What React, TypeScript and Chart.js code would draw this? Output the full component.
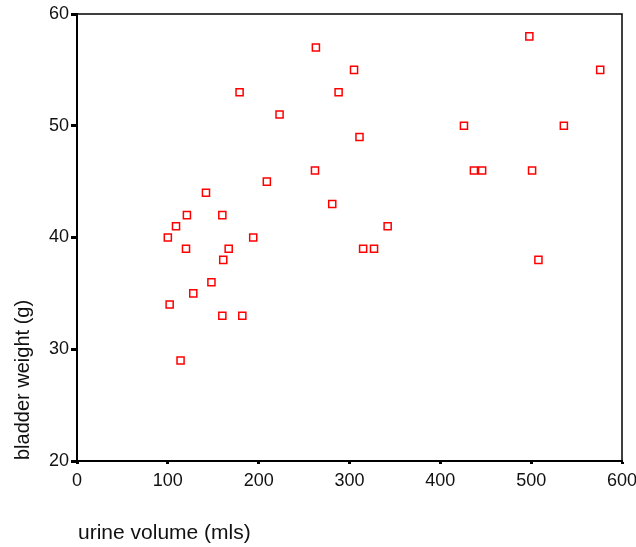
import React, { useEffect, useRef } from "react";
import { Chart, registerables } from "chart.js";

Chart.register(...registerables);

const urineVolume = [
  100, 102, 109, 114, 121, 120, 128, 142, 148, 160, 160, 161, 167, 179, 182, 194,
  209, 223, 262, 263, 281, 288, 305, 311, 315, 327, 342, 426, 437, 446, 498, 501,
  508, 536, 576,
];
const bladderWeight = [
  40, 34, 41, 29, 42, 39, 35, 44, 36, 42, 33, 38, 39, 53, 33, 40,
  45, 51, 46, 57, 43, 53, 55, 49, 39, 39, 41, 50, 46, 46, 58, 46,
  38, 50, 55,
];
const xTitle = "urine volume (mls)";
const yTitle = "bladder weight (g)";
const xMin = 0, xMax = 600, xStep = 100;
const yMin = 20, yMax = 60, yStep = 10;

const FONT = "'Liberation Sans', Arial, sans-serif";

const framePlugin = {
  id: "frame",
  afterDraw(chart: any) {
    const { ctx, chartArea } = chart;
    ctx.save();
    ctx.strokeStyle = "#000";
    ctx.lineWidth = 1.5;
    ctx.strokeRect(chartArea.left, chartArea.top, chartArea.right - chartArea.left, chartArea.bottom - chartArea.top);
    ctx.fillStyle = "#111";
    ctx.textBaseline = "middle";
    ctx.textAlign = "left";
    ctx.font = `21px ${FONT}`;
    ctx.fillText(xTitle, 78, 533);
    ctx.font = `20px ${FONT}`;
    ctx.translate(23, 460);
    ctx.rotate(-Math.PI / 2);
    ctx.fillText(yTitle, 0, 0);
    ctx.restore();
  },
};

export default function App() {
  const ref = useRef<HTMLCanvasElement>(null);
  useEffect(() => {
    if (!ref.current) return;
    const points = urineVolume.map((x, i) => ({ x, y: bladderWeight[i] }));
    const chart = new Chart(ref.current, {
      type: "scatter",
      data: {
        datasets: [
          {
            data: points,
            pointStyle: "rect",
            pointRadius: 5,
            pointBorderWidth: 1.5,
            borderColor: "#ff0000",
            backgroundColor: "rgba(255,255,255,0)",
            pointBackgroundColor: "rgba(255,255,255,0)",
            pointBorderColor: "#ff0000",
          },
        ],
      },
      options: {
        responsive: false,
        animation: false,
        events: [],
        layout: { padding: { top: 14, right: 14, left: 0, bottom: 0 } },
        plugins: { legend: { display: false }, tooltip: { enabled: false } },
        scales: {
          x: {
            type: "linear",
            min: xMin,
            max: xMax,
            ticks: { stepSize: xStep, color: "#111", font: { family: FONT, size: 18 }, padding: 6, maxRotation: 0 },
            grid: { drawOnChartArea: false, drawTicks: true, tickLength: 3, tickWidth: 3, tickColor: "#000" },
            border: { display: true, color: "#000", width: 2 },
            afterFit(scale: any) {
              scale.height = 86;
              scale.paddingLeft = 0;
              scale.paddingRight = 0;
            },
          },
          y: {
            type: "linear",
            min: yMin,
            max: yMax,
            ticks: { stepSize: yStep, color: "#111", font: { family: FONT, size: 18 }, padding: 2 },
            grid: { drawOnChartArea: false, drawTicks: true, tickLength: 6, tickWidth: 3, tickColor: "#000" },
            border: { display: true, color: "#000", width: 2 },
            afterFit(scale: any) {
              scale.width = 77;
              scale.paddingTop = 0;
              scale.paddingBottom = 0;
            },
          },
        },
      },
      plugins: [framePlugin],
    });
    return () => chart.destroy();
  }, []);
  return (
    <div style={{ position: "absolute", left: 0, top: 0, width: 636, height: 547, background: "#fff" }}>
      <canvas ref={ref} width={636} height={547} style={{ display: "block" }} />
    </div>
  );
}
